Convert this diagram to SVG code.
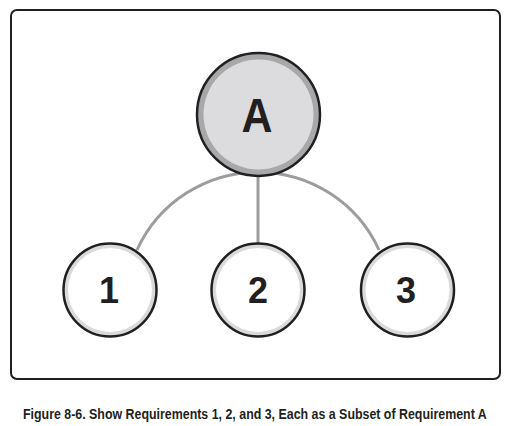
<svg xmlns="http://www.w3.org/2000/svg" width="507" height="426" viewBox="0 0 507 426">
<style>
.frame{fill:#fff;stroke:#231f20;stroke-width:2}
.edge{fill:none;stroke:#9d9d9f;stroke-width:3}
.big{fill:#a7a8aa;stroke:#231f20;stroke-width:2.5}
.bigin{fill:#dcdcde}
.small{fill:#d9dadb;stroke:#231f20;stroke-width:2.5}
.smallin{fill:#fff}
.lbl{font-family:"Liberation Sans",Arial,sans-serif;font-weight:bold;fill:#231f20;text-anchor:middle}
.cap{font-family:"Liberation Sans",Arial,sans-serif;font-weight:bold;fill:#231f20;font-size:15px}
</style>
<rect class="frame" x="11" y="10" width="489" height="369" rx="6"/>
<g id="connectors">
<path class="edge" d="M137,250 A133,133 0 0,1 379,250"/>
<line class="edge" x1="258" y1="175" x2="258" y2="245"/>
</g>
<g id="nodeA">
<circle class="big" cx="258.5" cy="114.5" r="61.5"/>
<circle class="bigin" cx="258.5" cy="114.5" r="55"/>
<text class="lbl" x="257" y="132" font-size="49" textLength="31" lengthAdjust="spacingAndGlyphs">A</text>
</g>
<g id="node1">
<circle class="small" cx="110" cy="290" r="46.5"/>
<circle class="smallin" cx="110" cy="290" r="42"/>
<text class="lbl" x="109" y="303" font-size="36">1</text>
</g>
<g id="node2">
<circle class="small" cx="258" cy="290" r="46.5"/>
<circle class="smallin" cx="258" cy="290" r="42"/>
<text class="lbl" x="258" y="303" font-size="36">2</text>
</g>
<g id="node3">
<circle class="small" cx="407.5" cy="290" r="46.5"/>
<circle class="smallin" cx="407.5" cy="290" r="42"/>
<text class="lbl" x="406" y="303" font-size="36">3</text>
</g>
<text class="cap" transform="translate(23,419) scale(0.827,1)" x="0" y="0">Figure 8-6. Show Requirements 1, 2, and 3, Each as a Subset of Requirement A</text>
</svg>
